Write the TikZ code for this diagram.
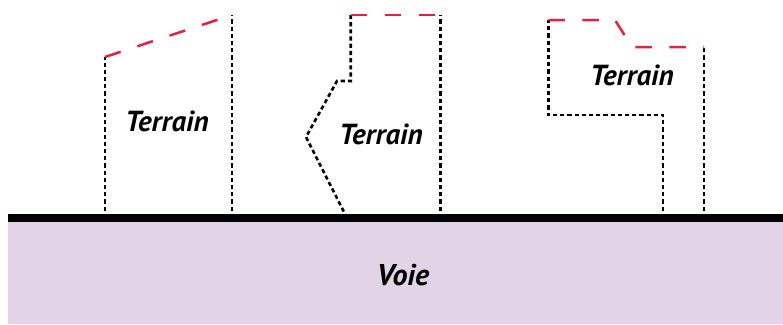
\documentclass[tikz,border=0pt]{standalone}
\usepackage{fontspec}
\setmainfont{PT Sans}
\definecolor{voiecol}{RGB}{226,211,231}
\definecolor{limred}{RGB}{226,34,64}
\begin{document}
\begin{tikzpicture}[x=1pt,y=-1pt,
  lim/.style={black,line width=2.6pt,dash pattern=on 4.2pt off 3pt},
  front/.style={limred,line width=2.5pt,dash pattern=on 16.5pt off 17.5pt},
  lbl/.style={font=\fontsize{29}{29}\selectfont\bfseries\itshape,inner sep=0pt},
  vlbl/.style={font=\fontsize{30}{30}\selectfont\bfseries\itshape,inner sep=0pt}]
\useasboundingbox (0,0) rectangle (783,324);
\fill[white] (0,0) rectangle (783,324);
% voie
\fill[voiecol] (8,218) rectangle (783,324);
% terrain 1
\draw[lim] (105,218) -- (105,57);
\draw[lim] (232,218) -- (232,15);
\draw[front] (105,57) -- (232,15);
% terrain 2
\draw[lim] (440.5,218) -- (440.5,15);
\draw[lim] (347,218) -- (306,137) -- (337,81) -- (350.7,81) -- (350.7,15);
\draw[front] (350.7,15) -- (440.5,15);
% terrain 3
\draw[lim] (704,218) -- (704,47);
\draw[lim] (663,218) -- (663,115) -- (548.3,115) -- (548.3,20);
\draw[front] (548.3,20) -- (615,20) -- (632,47) -- (704,47);
% road edge
\draw[black,line width=8pt] (8,218) -- (783,218);
% labels
\node[lbl] (t1) at (167,121) {Terrain};
\node[lbl] (t2) at (381,134) {Terrain};
\node[lbl] (t3) at (632,75) {Terrain};
\node[vlbl] (voie) at (403,275) {Voie};
\end{tikzpicture}
\end{document}
